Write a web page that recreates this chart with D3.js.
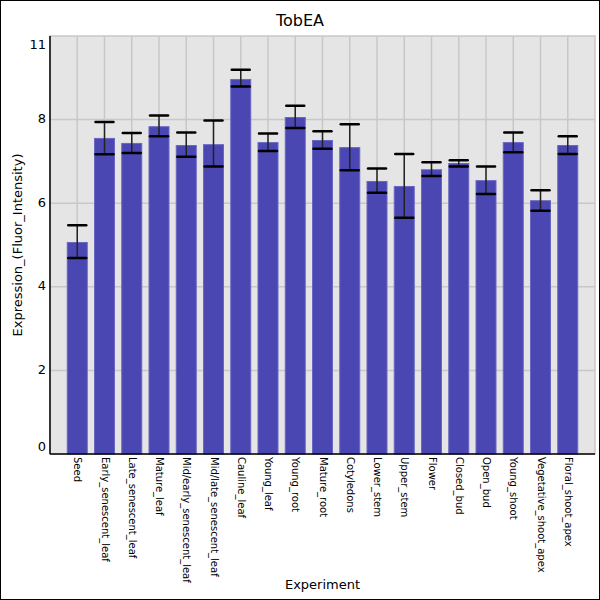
<!DOCTYPE html>
<html>
<head>
<meta charset="utf-8">
<script src="https://cdn.jsdelivr.net/npm/d3@7"></script>
<style>
  body { margin: 0; background: #fff; }
  svg { display: block; font-family: "DejaVu Sans", sans-serif; }
</style>
</head>
<body>
<svg id="chart" width="600" height="600"></svg>
<script>
// values
const experiments = ['Seed', 'Early_senescent_leaf', 'Late_senescent_leaf', 'Mature_leaf',
  'Mid/early_senescent_leaf', 'Mid/late_senescent_leaf', 'Cauline_leaf', 'Young_leaf',
  'Young_root', 'Mature_root', 'Cotyledons', 'Lower_stem', 'Upper_stem', 'Flower',
  'Closed_bud', 'Open_bud', 'Young_shoot', 'Vegetative_shoot_apex', 'Floral_shoot_apex'];
const expression = [5.06, 7.55, 7.43, 7.83, 7.38, 7.40, 8.96, 7.45, 8.05, 7.50,
  7.33, 6.52, 6.40, 6.80, 6.95, 6.54, 7.45, 6.06, 7.38];
const errTop = [5.47, 7.94, 7.68, 8.10, 7.69, 7.98, 9.19, 7.67, 8.33, 7.72,
  7.89, 6.83, 7.18, 6.98, 7.03, 6.88, 7.69, 6.31, 7.60];
const errBottom = [4.69, 7.17, 7.20, 7.60, 7.11, 6.88, 8.79, 7.25, 7.80, 7.30,
  6.79, 6.25, 5.65, 6.65, 6.88, 6.22, 7.22, 5.82, 7.18];
const yTickValues = [0, 2, 4, 6, 8, 10];
const yTickLabels = ['0', '2', '4', '6', '8', '11'];

const svg = d3.select('#chart');
const W = 600, H = 600;
const pLeft = 50, pRight = 595, pTop = 36, pBottom = 454;

svg.append('rect')
  .attr('x', 0.5).attr('y', 0.5)
  .attr('width', W - 1).attr('height', H - 1)
  .attr('fill', '#fff').attr('stroke', '#000');

const x = d3.scalePoint().domain(experiments).range([pLeft, pRight]).padding(1);
const y = d3.scaleLinear().domain([0, 10]).range([pBottom, pTop]);
const barW = 20;

// plot background
svg.append('rect')
  .attr('x', pLeft).attr('y', pTop)
  .attr('width', pRight - pLeft).attr('height', pBottom - pTop)
  .attr('fill', '#e5e5e5').attr('stroke', '#c8c8c8').attr('stroke-width', 1.5);

// grid
const grid = svg.append('g').attr('stroke', '#c8c8c8').attr('stroke-width', 1.5);
grid.selectAll('line.h')
  .data(yTickValues.filter(v => v > 0 && v < 10))
  .join('line').attr('class', 'h')
  .attr('x1', pLeft).attr('x2', pRight)
  .attr('y1', d => y(d)).attr('y2', d => y(d));
grid.selectAll('line.v')
  .data(experiments)
  .join('line').attr('class', 'v')
  .attr('x1', d => x(d)).attr('x2', d => x(d))
  .attr('y1', pTop).attr('y2', pBottom);

// bars
svg.append('g').selectAll('rect')
  .data(experiments)
  .join('rect')
  .attr('x', d => x(d) - barW / 2)
  .attr('width', barW)
  .attr('y', (d, i) => y(expression[i]))
  .attr('height', (d, i) => y(0) - y(expression[i]))
  .attr('fill', '#4a46b2')
  .attr('stroke', '#6a67c2')
  .attr('stroke-width', 1);

// error bars
const err = svg.append('g').selectAll('g')
  .data(experiments)
  .join('g');
err.append('line')
  .attr('x1', d => x(d)).attr('x2', d => x(d))
  .attr('y1', (d, i) => y(errTop[i]))
  .attr('y2', (d, i) => y(errBottom[i]))
  .attr('stroke', '#222').attr('stroke-width', 1.5);
err.selectAll('line.cap')
  .data((d, i) => [errTop[i], errBottom[i]].map(v => ({ name: d, v: v })))
  .join('line').attr('class', 'cap')
  .attr('x1', d => x(d.name) - 9).attr('x2', d => x(d.name) + 9)
  .attr('y1', d => y(d.v)).attr('y2', d => y(d.v))
  .attr('stroke', '#000').attr('stroke-width', 2.5)
  .attr('stroke-linecap', 'round');

// axes lines
svg.append('line')
  .attr('x1', pLeft).attr('x2', pLeft).attr('y1', pTop).attr('y2', pBottom)
  .attr('stroke', '#000').attr('stroke-width', 1.5);
svg.append('line')
  .attr('x1', pLeft).attr('x2', pRight).attr('y1', pBottom).attr('y2', pBottom)
  .attr('stroke', '#000').attr('stroke-width', 1.5);

// y tick labels (clamped inside the plot)
svg.append('g').selectAll('text')
  .data(yTickValues)
  .join('text')
  .attr('x', pLeft - 4)
  .attr('y', d => Math.max(pTop + 9, Math.min(pBottom - 7, y(d))))
  .attr('text-anchor', 'end')
  .attr('dominant-baseline', 'middle')
  .attr('font-size', 13)
  .text((d, i) => yTickLabels[i]);

// x tick labels
svg.append('g').selectAll('text')
  .data(experiments)
  .join('text')
  .attr('transform', d => `translate(${x(d)},${pBottom + 3}) rotate(90)`)
  .attr('dominant-baseline', 'middle')
  .attr('font-size', 10)
  .text(d => d);

// titles
svg.append('text')
  .attr('x', 300).attr('y', 26)
  .attr('text-anchor', 'middle')
  .attr('font-size', 16)
  .text('TobEA');
svg.append('text')
  .attr('x', (pLeft + pRight) / 2).attr('y', 589)
  .attr('text-anchor', 'middle')
  .attr('font-size', 13)
  .text('Experiment');
svg.append('text')
  .attr('transform', `translate(22,${(pTop + pBottom) / 2}) rotate(-90)`)
  .attr('text-anchor', 'middle')
  .attr('font-size', 13)
  .text('Expression_(Fluor_Intensity)');
</script>
</body>
</html>
